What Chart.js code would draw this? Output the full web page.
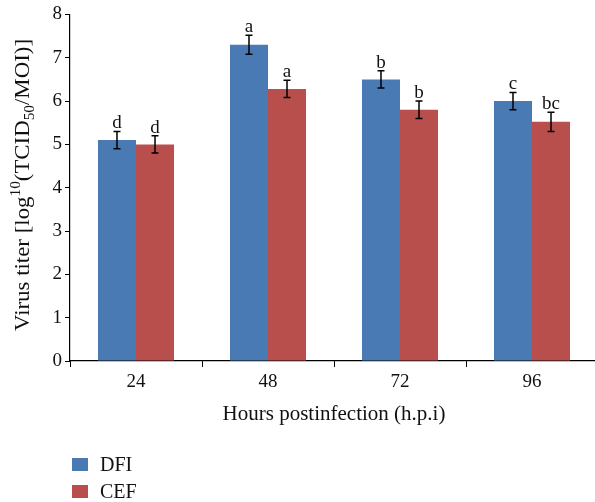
<!DOCTYPE html>
<html><head><meta charset="utf-8">
<script src="https://cdn.jsdelivr.net/npm/chart.js@4"></script>
<style>html,body{margin:0;padding:0;background:#fff;overflow:hidden}#wrap{width:600px;height:502px}</style>
</head><body><div id="wrap"><canvas id="c" width="600" height="502"></canvas></div>
<script>
const categories = ["24", "48", "72", "96"];
const dfiValues = [5.1, 7.3, 6.5, 6.0];
const cefValues = [5.0, 6.28, 5.8, 5.52];
const dfiErrors = [0.2, 0.22, 0.2, 0.2];
const cefErrors = [0.2, 0.2, 0.2, 0.22];
const dfiLetters = ["d", "a", "b", "c"];
const cefLetters = ["d", "a", "b", "bc"];
const yTicks = [0, 1, 2, 3, 4, 5, 6, 7, 8];

const FONT = "'Liberation Serif', 'DejaVu Serif', serif";

const errorPlugin = {
  id: 'errs',
  afterDatasetsDraw(chart) {
    const ctx = chart.ctx;
    const y = chart.scales.y;
    const errs = [dfiErrors, cefErrors];
    const letters = [dfiLetters, cefLetters];
    chart.data.datasets.forEach((ds, di) => {
      const meta = chart.getDatasetMeta(di);
      meta.data.forEach((bar, i) => {
        const v = ds.data[i];
        const top = y.getPixelForValue(v + errs[di][i]);
        const bot = y.getPixelForValue(v - errs[di][i]);
        ctx.save();
        ctx.strokeStyle = '#000';
        ctx.lineWidth = 1.5;
        ctx.beginPath();
        ctx.moveTo(bar.x, top); ctx.lineTo(bar.x, bot);
        ctx.moveTo(bar.x - 3.5, top); ctx.lineTo(bar.x + 3.5, top);
        ctx.moveTo(bar.x - 3.5, bot); ctx.lineTo(bar.x + 3.5, bot);
        ctx.stroke();
        ctx.fillStyle = '#111';
        ctx.font = "19px " + FONT;
        ctx.textAlign = 'center';
        ctx.textBaseline = 'alphabetic';
        ctx.fillText(letters[di][i], bar.x, top - 3);
        ctx.restore();
      });
    });
  }
};

const extrasPlugin = {
  id: 'extras',
  afterDraw(chart) {
    const ctx = chart.ctx;
    // Y title with super/subscripts
    ctx.save();
    ctx.translate(22, 185);
    ctx.rotate(-Math.PI / 2);
    ctx.fillStyle = '#111';
    ctx.textBaseline = 'alphabetic';
    const parts = [
      {t: "Virus titer [log", s: 21, dy: 0},
      {t: "10", s: 14, dy: -9},
      {t: "(TCID", s: 21, dy: 0},
      {t: "50", s: 14, dy: 5},
      {t: "/MOI)]", s: 21, dy: 0}
    ];
    let total = 0;
    parts.forEach(p => { ctx.font = p.s + "px " + FONT; total += ctx.measureText(p.t).width; });
    const target = 292;
    ctx.scale(target / total, 1);
    let x = -total / 2;
    parts.forEach(p => {
      ctx.font = p.s + "px " + FONT;
      ctx.textAlign = 'left';
      ctx.fillText(p.t, x, 7 + p.dy);
      x += ctx.measureText(p.t).width;
    });
    ctx.restore();
    // Legend (vertical, bottom-left)
    ctx.save();
    chart.data.datasets.forEach((ds, i) => {
      const yy = 458 + i * 27;
      ctx.fillStyle = ds.backgroundColor;
      ctx.fillRect(72, yy, 16, 13);
      ctx.fillStyle = '#111';
      ctx.font = "20px " + FONT;
      ctx.textAlign = 'left';
      ctx.textBaseline = 'middle';
      ctx.fillText(ds.label, 100, yy + 8);
    });
    ctx.restore();
  }
};

new Chart(document.getElementById('c'), {
  type: 'bar',
  data: {
    labels: categories,
    datasets: [
      {label: 'DFI', data: dfiValues, backgroundColor: '#4A7AB4'},
      {label: 'CEF', data: cefValues, backgroundColor: '#B84F4C'}
    ]
  },
  options: {
    responsive: false,
    animation: false,
    devicePixelRatio: 1,
    layout: {padding: {left: 0, right: 2, top: 11, bottom: 75}},
    datasets: {bar: {categoryPercentage: 0.576, barPercentage: 1.0}},
    plugins: {legend: {display: false}, tooltip: {enabled: false}},
    scales: {
      x: {
        grid: {display: true, drawOnChartArea: false, offset: true, color: '#000', tickLength: 6, lineWidth: 1},
        border: {color: '#000', width: 1.2},
        ticks: {color: '#111', font: {family: FONT, size: 19}, padding: 4},
        title: {display: true, text: 'Hours postinfection (h.p.i)', color: '#111', font: {family: FONT, size: 21}, padding: {top: 4, bottom: 0}}
      },
      y: {
        min: 0, max: 8,
        afterBuildTicks(scale) { scale.ticks = yTicks.map(v => ({value: v})); },
        grid: {display: true, drawOnChartArea: false, color: '#000', tickLength: 5},
        border: {color: '#000', width: 1.2},
        ticks: {color: '#111', font: {family: FONT, size: 19}, padding: 3},
        afterFit(scale) { scale.width = 70; }
      }
    }
  },
  plugins: [errorPlugin, extrasPlugin]
});
</script></body></html>
